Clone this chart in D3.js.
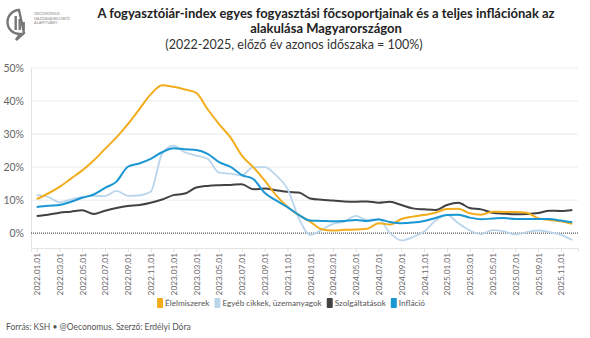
<!DOCTYPE html>
<html><head><meta charset="utf-8">
<script src="https://cdn.jsdelivr.net/npm/d3@7/dist/d3.min.js"></script>
<style>body{margin:0;background:#fff;}svg{display:block;font-family:Lato,"Open Sans",sans-serif;}</style>
</head><body><svg id="c" width="590" height="338"></svg>
<script>
const months = ["2022.01.01","2022.02.01","2022.03.01","2022.04.01","2022.05.01","2022.06.01","2022.07.01","2022.08.01","2022.09.01","2022.10.01","2022.11.01","2022.12.01",
"2023.01.01","2023.02.01","2023.03.01","2023.04.01","2023.05.01","2023.06.01","2023.07.01","2023.08.01","2023.09.01","2023.10.01","2023.11.01","2023.12.01",
"2024.01.01","2024.02.01","2024.03.01","2024.04.01","2024.05.01","2024.06.01","2024.07.01","2024.08.01","2024.09.01","2024.10.01","2024.11.01","2024.12.01",
"2025.01.01","2025.02.01","2025.03.01","2025.04.01","2025.05.01","2025.06.01","2025.07.01","2025.08.01","2025.09.01","2025.10.01","2025.11.01","2025.12.01"];
const tickLabels = months.filter((d,i)=>i%2===0);
const food = [10.3,12,14,16.5,19,22,25.5,29,33,37.5,42,44.8,44.3,43.5,42.5,37.5,33,29,23.5,20,16,11.5,8,5.5,3.5,1.2,0.8,1.0,1.1,1.3,3.0,2.6,4.3,5.0,5.5,6.2,7.3,7.4,6.0,5.6,6.5,6.4,6.4,6.2,4.5,4.0,3.6,2.8];
const other = [11.5,11.0,9.3,10.2,11.0,11.3,11.2,12.8,11.3,11.4,12.5,24,26.5,24.5,23.5,22.5,18.3,18.0,17.5,20.0,20.0,17.5,13.5,4.5,-0.5,1.0,2.8,3.5,5.2,4.0,4.3,0.0,-2.2,-1.2,0.5,3.8,5.5,3.0,0.8,-0.3,0.9,0.5,-0.4,0.3,0.8,0.3,-0.5,-2.1];
const services = [5.2,5.6,6.2,6.5,6.9,5.8,6.8,7.6,8.2,8.5,9.2,10.2,11.5,12.0,13.8,14.3,14.5,14.6,14.8,13.3,13.5,13.0,12.5,12.3,10.5,10.1,9.9,9.6,9.5,9.6,9.2,9.5,8.5,7.5,7.2,7.0,8.5,9.2,7.6,7.2,6.2,5.9,5.7,5.8,6.1,6.8,6.7,7.0];
const inflation = [7.9,8.3,8.5,9.5,10.7,11.7,13.7,15.6,20.1,21.1,22.5,24.5,25.7,25.4,25.2,24.0,21.5,20.1,17.6,16.4,12.2,9.9,7.9,5.5,3.8,3.7,3.6,3.7,4.0,3.7,4.1,3.4,3.0,3.2,3.7,4.6,5.5,5.6,4.7,4.2,4.4,4.6,4.3,4.3,4.3,4.3,3.8,3.3];
const yTicks = [0,10,20,30,40,50];
const seriesNames = ["Élelmiszerek","Egyéb cikkek, üzemanyagok","Szolgáltatások","Infláció"];
const seriesData = [food, other, services, inflation];
const colors = ["#f2ad1c","#bad5ec","#424242","#1a96d2"];

const svg = d3.select("#c");
const L=31, R=578, T=68, B=248;
const x = d3.scalePoint().domain(months).range([L,R]).padding(0.5);
const y = d3.scaleLinear().domain([-4.5,50]).range([B,T]);

svg.append("g").selectAll("line").data(yTicks.filter(d=>d!==0)).join("line")
  .attr("x1",L).attr("x2",R).attr("y1",d=>y(d)).attr("y2",d=>y(d))
  .attr("stroke","#ececec").attr("stroke-width",1);
svg.append("line").attr("x1",L+0.5).attr("x2",L+0.5).attr("y1",T).attr("y2",B).attr("stroke","#e4e4e4");
const xa = svg.append("g").attr("transform",`translate(0,${B})`)
  .call(d3.axisBottom(x).tickValues(tickLabels).tickSize(4).tickPadding(4));
xa.select(".domain").attr("stroke","#e4e4e4");
xa.selectAll(".tick line").attr("stroke","#e0e0e0");
xa.selectAll("text").attr("transform","rotate(-90)").attr("text-anchor","end")
  .attr("x",-5).attr("y",0).attr("dy","0.35em").attr("fill","#666").style("font-size","8.3px").style("font-family","Lato");
const ya = svg.append("g").attr("transform",`translate(${L},0)`)
  .call(d3.axisLeft(y).tickValues(yTicks).tickFormat(d=>d+"%").tickSize(0).tickPadding(7));
ya.select(".domain").remove();
ya.selectAll("text").attr("fill","#666").style("font-size","10.5px").style("font-family","Lato");

svg.append("line").attr("x1",L).attr("x2",R).attr("y1",y(0)).attr("y2",y(0))
  .attr("stroke","#555").attr("stroke-width",1.3).attr("stroke-dasharray","1,1");

const line = d3.line().x((d,i)=>x(months[i])).y(d=>y(d)).curve(d3.curveMonotoneX);
[2,1,0,3].forEach(k=>{
  svg.append("path").datum(seriesData[k]).attr("d",line).attr("fill","none")
    .attr("stroke",colors[k]).attr("stroke-width",k===1?1.8:2).attr("stroke-linejoin","round");
});

const lg = svg.append("g");
let cx = 0;
seriesNames.forEach((n,i)=>{
  const g = lg.append("g");
  g.append("rect").attr("x",0).attr("y",-5).attr("width",6).attr("height",10).attr("rx",1).attr("fill",colors[i]);
  const t = g.append("text").attr("x",8).attr("y",0).attr("dy","0.35em").attr("fill","#555").style("font-size","8.2px").text(n);
  const w = 8 + t.node().getComputedTextLength();
  g.attr("transform",`translate(${cx},0)`);
  cx += w + 5;
});
const totalW = cx - 5;
lg.attr("transform",`translate(${291 - totalW/2},303)`);

svg.append("text").attr("x",326).attr("y",18).attr("text-anchor","middle").attr("fill","#222")
  .style("font-weight","bold").style("font-size","13px").text("A fogyasztóiár-index egyes fogyasztási főcsoportjainak és a teljes inflációnak az");
svg.append("text").attr("x",326).attr("y",33).attr("text-anchor","middle").attr("fill","#222")
  .style("font-weight","bold").style("font-size","13px").text("alakulása Magyarországon");
svg.append("text").attr("x",294).attr("y",49).attr("text-anchor","middle").attr("fill","#333")
  .style("font-size","12.5px").text("(2022-2025, előző év azonos időszaka = 100%)");

svg.append("text").attr("x",6).attr("y",330).attr("fill","#555").style("font-size","8.5px")
  .text("Forrás: KSH • @Oeconomus. Szerző: Erdélyi Dóra");

const lo = svg.append("g").attr("transform","translate(7,9)");
lo.append("path").attr("d","M12,1 A12,12 0 1 0 13,25 L9,31 L17,24 Z").attr("fill","none").attr("stroke","#777").attr("stroke-width",2.4);
lo.append("rect").attr("x",7.5).attr("y",7).attr("width",2.4).attr("height",14).attr("fill","#777");
lo.append("rect").attr("x",11.5).attr("y",10).attr("width",2.4).attr("height",11).attr("fill","#777");
lo.append("rect").attr("x",15.5).attr("y",13).attr("width",2.4).attr("height",8).attr("fill","#777");
["OECONOMUS","GAZDASÁGKUTATÓ","ALAPÍTVÁNY"].forEach((t,i)=>{
  lo.append("text").attr("x",27).attr("y",6+i*4.5).attr("fill","#888").style("font-size","3.9px").text(t);
});
</script></body></html>
